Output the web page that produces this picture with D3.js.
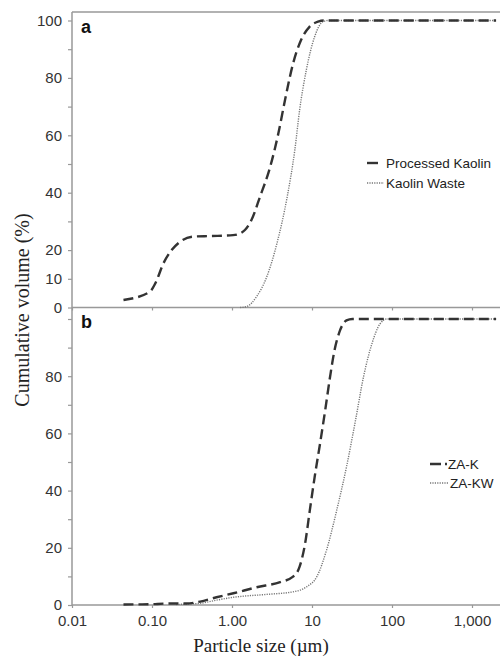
<!DOCTYPE html>
<html>
<head>
<meta charset="utf-8">
<script src="https://cdn.jsdelivr.net/npm/d3@7"></script>
<style>
  body { margin: 0; background: #fff; }
  svg { display: block; }
</style>
</head>
<body>
<div id="chart"></div>
<script>
// data (size in um, cumulative volume in %)
var kaolinSize = [0.044, 0.094, 0.11, 0.139, 0.176, 0.224, 0.33, 0.53, 1.03, 1.26, 1.45, 1.75, 2.24, 3.0, 3.8, 4.6, 5.8, 7.3, 9.3, 11.9, 14, 2000];
var kaolinVol  = [2.6, 5.5, 8.4, 15.4, 20, 22.9, 24.7, 24.9, 25.2, 25.8, 27, 30.5, 38.6, 49, 60.7, 72.3, 85, 93.2, 97.8, 99.6, 100, 100];

var wasteSize = [1.26, 1.52, 2.03, 2.72, 3.65, 4.9, 6.1, 7.0, 8.5, 10.8, 13.7, 16, 2000];
var wasteVol  = [0, 0.3, 3.8, 10.7, 22.4, 38.6, 54.9, 68.8, 82.8, 94.4, 99.6, 100, 100];

var zakSize = [0.044, 0.094, 0.15, 0.27, 0.4, 0.64, 1.04, 2.03, 4.0, 5.8, 7.0, 8.2, 9.4, 10.8, 12.6, 14.6, 16.8, 19.1, 22.4, 27, 32, 2000];
var zakVol  = [0.2, 0.25, 0.5, 0.5, 1.2, 2.7, 4.1, 6.2, 8.0, 9.9, 13.4, 21.5, 33.2, 44.8, 56.4, 68, 79.7, 89, 96, 99.5, 100, 100];

var zakwSize = [0.2, 0.4, 0.64, 1.04, 2.7, 5.8, 8.6, 11.5, 15.2, 20.4, 27, 35, 44, 56, 70.8, 86, 2000];
var zakwVol  = [0.2, 0.6, 1.7, 2.7, 3.7, 4.6, 6.4, 9.9, 19.2, 33.2, 48.3, 64.6, 79.7, 91.3, 98.3, 100, 100];

var xTicks = [0.01, 0.1, 1, 10, 100, 1000];
var xTickLabels = ["0.01", "0.10", "1.00", "10", "100", "1,000"];
var yTicks = [0, 10, 20, 30, 40, 50, 60, 70, 80, 90, 100];
var yLabelsA = [0, 10, 20, 40, 60, 80, 100];
var yLabelsB = [0, 20, 40, 60, 80];

var width = 500, height = 660;
var left = 72;

var svg = d3.select("#chart")
  .append("svg")
    .attr("width", width)
    .attr("height", height);

var x = d3.scaleLog()
  .domain([0.01, 2000])
  .range([left, left + 80 * Math.log10(2000 / 0.01)]);

var yA = d3.scaleLinear().domain([0, 100]).range([307.5, 20.5]);
var yB = d3.scaleLinear().domain([0, 100]).range([605, 319]);

var axisCol = "#999";
var labelCol = "#333";
var sans = "Liberation Sans, Arial, sans-serif";
var serif = "Liberation Serif, Times New Roman, serif";

// top border of panel a
svg.append("line")
  .attr("x1", left).attr("x2", 500)
  .attr("y1", 12).attr("y2", 12)
  .attr("stroke", "#666").attr("stroke-width", 1.2);

// continuous left axis line
svg.append("line")
  .attr("x1", left).attr("x2", left)
  .attr("y1", 12).attr("y2", 605)
  .attr("stroke", axisCol).attr("stroke-width", 1.5);

function yAxis(scale, labels) {
  var g = svg.append("g")
    .attr("transform", "translate(" + left + ",0)")
    .call(d3.axisLeft(scale)
      .tickValues(yTicks)
      .tickSize(4)
      .tickPadding(6)
      .tickFormat(function(d) { return labels.indexOf(d) >= 0 ? d : ""; }));
  g.select(".domain").remove();
  g.selectAll(".tick line").attr("stroke", axisCol).attr("stroke-width", 1.2);
  g.selectAll("text")
    .attr("fill", labelCol)
    .style("font-family", sans)
    .style("font-size", "15px");
  return g;
}
yAxis(yA, yLabelsA);
yAxis(yB, yLabelsB);

function xAxis(y0, withLabels) {
  var g = svg.append("g")
    .attr("transform", "translate(0," + y0 + ")")
    .call(d3.axisBottom(x)
      .tickValues(xTicks)
      .tickSize(3)
      .tickSizeOuter(0)
      .tickPadding(7)
      .tickFormat(function(d, i) { return withLabels ? xTickLabels[i] : ""; }));
  g.select(".domain").attr("stroke", axisCol).attr("stroke-width", 1.5)
    .attr("d", "M" + left + ",0H500");
  g.selectAll(".tick line").attr("stroke", axisCol).attr("stroke-width", 1.2);
  g.selectAll("text")
    .attr("fill", labelCol)
    .style("font-family", sans)
    .style("font-size", "15px");
}
xAxis(yA(0), false);
xAxis(yB(0), true);

function drawLine(sizes, vols, yScale, dashed) {
  var pts = sizes.map(function(s, i) { return [s, vols[i]]; });
  var line = d3.line()
    .x(function(d) { return x(d[0]); })
    .y(function(d) { return yScale(d[1]); })
    .curve(d3.curveMonotoneX);
  svg.append("path")
    .datum(pts)
    .attr("d", line)
    .attr("fill", "none")
    .attr("stroke", dashed ? "#333" : "#777")
    .attr("stroke-width", dashed ? 2.4 : 1.4)
    .attr("stroke-dasharray", dashed ? "10,5" : "1.2,1.2");
}

drawLine(wasteSize, wasteVol, yA, false);
drawLine(kaolinSize, kaolinVol, yA, true);
drawLine(zakwSize, zakwVol, yB, false);
drawLine(zakSize, zakVol, yB, true);

// panel letters
svg.append("text").attr("x", 81).attr("y", 33).text("a")
  .style("font-family", sans).style("font-weight", "bold").style("font-size", "18px").attr("fill", "#111");
svg.append("text").attr("x", 81).attr("y", 328).text("b")
  .style("font-family", sans).style("font-weight", "bold").style("font-size", "18px").attr("fill", "#111");

// legends
function legendItem(x1, x2, y, dashed, label, tx) {
  svg.append("line")
    .attr("x1", x1).attr("x2", x2).attr("y1", y).attr("y2", y)
    .attr("stroke", dashed ? "#333" : "#777")
    .attr("stroke-width", dashed ? 2.4 : 1.4)
    .attr("stroke-dasharray", dashed ? "11,4" : "1.2,1.2");
  svg.append("text")
    .attr("x", tx).attr("y", y + 5)
    .text(label)
    .attr("fill", "#222")
    .style("font-family", sans)
    .style("font-size", "13.5px");
}
legendItem(367, 378, 163, true, "Processed Kaolin", 386);
legendItem(367, 384, 183, false, "Kaolin Waste", 386);
legendItem(430, 447, 464, true, "ZA-K", 448);
legendItem(430, 448, 483, false, "ZA-KW", 450);

// axis titles
svg.append("text")
  .attr("transform", "translate(29,310)rotate(-90)")
  .attr("text-anchor", "middle")
  .text("Cumulative  volume (%)")
  .attr("fill", "#222")
  .style("font-family", serif)
  .style("font-size", "20px");

svg.append("text")
  .attr("x", 261).attr("y", 652)
  .attr("text-anchor", "middle")
  .text("Particle size (\u00b5m)")
  .attr("fill", "#222")
  .style("font-family", serif)
  .style("font-size", "19px");
</script>
</body>
</html>
